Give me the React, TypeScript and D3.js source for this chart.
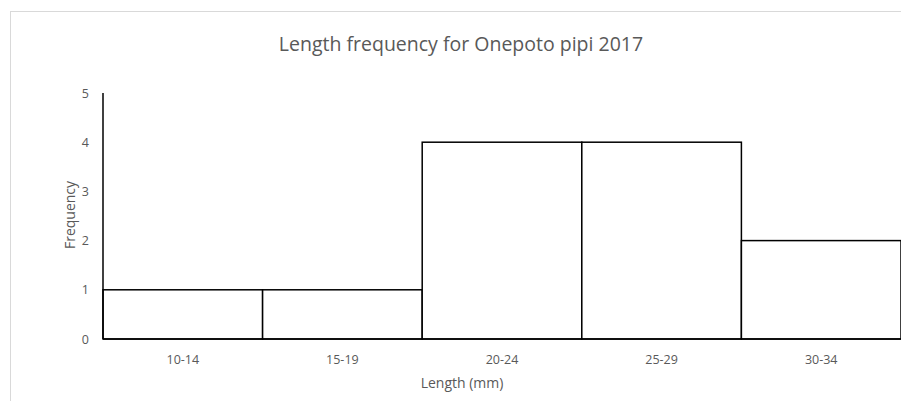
import React from "react";
import * as d3 from "d3";

const categories = ["10-14", "15-19", "20-24", "25-29", "30-34"];
const frequencies = [1, 1, 4, 4, 2];
const yTicks = [0, 1, 2, 3, 4, 5];

const W = 901;
const H = 401;
const FONT = "'Open Sans', 'Liberation Sans', sans-serif";

export default function App() {
  const x = d3.scaleBand<string>().domain(categories).range([103, 901]).padding(0);
  const y = d3.scaleLinear().domain([0, 5]).range([339, 93]);
  return (
    <svg width={W} height={H} style={{ position: "absolute", left: 0, top: 0, background: "#fff" }}>
      <rect x={10.5} y={11.5} width={W} height={H} fill="#fff" stroke="#d9d9d9" strokeWidth={1} />
      <text x={461} y={51} textAnchor="middle" fontFamily={FONT} fontSize={19.5} fill="#595959">
        Length frequency for Onepoto pipi 2017
      </text>
      {categories.map((c, i) => (
        <rect key={c} x={x(c)!} y={y(frequencies[i])} width={x.bandwidth()} height={y(0) - y(frequencies[i])}
          fill="#fff" stroke="#000" strokeWidth={1.5} />
      ))}
      <line x1={103} x2={103} y1={y(5)} y2={y(0)} stroke="#000" strokeWidth={1.5} />
      <line x1={103} x2={901} y1={y(0)} y2={y(0)} stroke="#000" strokeWidth={1.5} />
      {yTicks.map((t) => (
        <text key={t} x={89} y={y(t) + 4.5} textAnchor="end" fontFamily={FONT} fontSize={12.5} fill="#595959">{t}</text>
      ))}
      {categories.map((c) => (
        <text key={c} x={x(c)! + x.bandwidth() / 2} y={364} textAnchor="middle" fontFamily={FONT} fontSize={12.5} fill="#595959">{c}</text>
      ))}
      <text transform={`translate(75,215) rotate(-90)`} textAnchor="middle" fontFamily={FONT} fontSize={14} fill="#595959">Frequency</text>
      <text x={462} y={388} textAnchor="middle" fontFamily={FONT} fontSize={14} fill="#595959">Length (mm)</text>
    </svg>
  );
}
